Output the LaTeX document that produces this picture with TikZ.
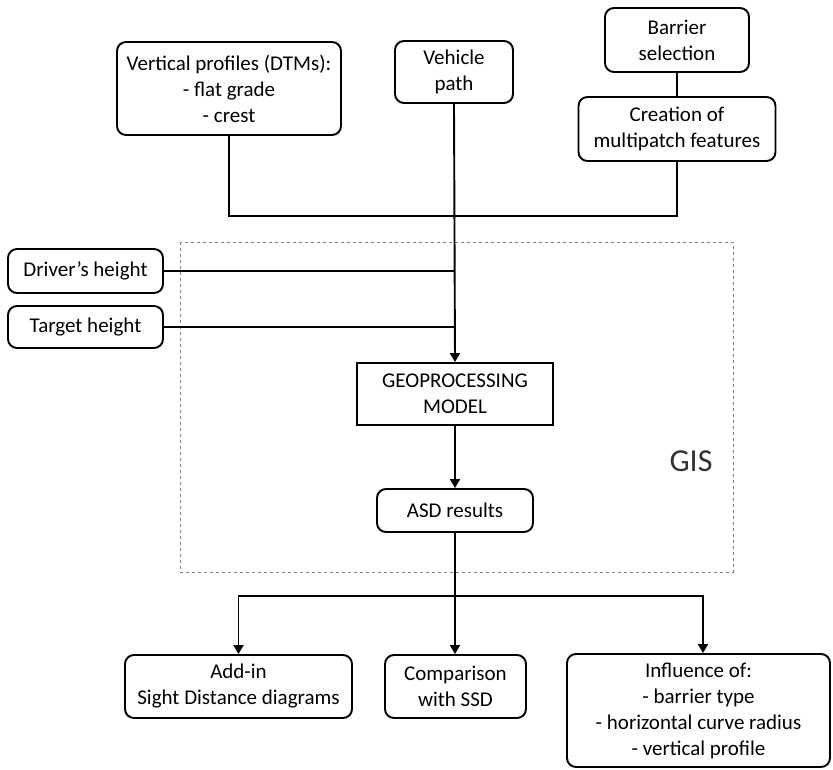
\documentclass[tikz,border=0pt]{standalone}
\usepackage{fontspec}
\setmainfont{Carlito}
\usetikzlibrary{arrows.meta}

\tikzset{
    flowbox/.style={draw, rounded corners=9pt, line width=1.9pt, align=center,
        inner sep=0pt, font=\fontsize{21}{26}\selectfont},
    link/.style={line width=1.9pt},
    flow/.style={line width=1.9pt, -{Triangle[length=9pt,width=10pt]}}
}

\begin{document}
\begin{tikzpicture}[x=1pt,y=-1pt]
    \useasboundingbox (0,0) rectangle (833,770);

    % GIS frame
    \draw[gray, dashed, line width=0.8pt] (180,242) rectangle (733,572);
    \node[text=black!80, font=\fontsize{32}{36}\selectfont] (gis) at (691,461) {GIS};

    % inputs
    \node[flowbox, minimum width=224pt, minimum height=93pt] (profiles) at (229,88.5)
        {Vertical profiles (DTMs):\\- flat grade\\- crest};
    \node[flowbox, minimum width=118pt, minimum height=62pt] (vehicle) at (454,72) {Vehicle\\path};
    \node[flowbox, minimum width=144pt, minimum height=64pt] (barrier) at (677,40) {Barrier\\selection};
    \node[flowbox, minimum width=197pt, minimum height=64pt] (multipatch) at (677,129)
        {Creation of\\multipatch features};
    \node[flowbox, minimum width=155pt, minimum height=44pt] (driver) at (85.5,271) {Driver’s height};
    \node[flowbox, minimum width=155pt, minimum height=42pt] (target) at (85.5,327) {Target height};

    % processing
    \node[flowbox, rounded corners=0pt, minimum width=196pt, minimum height=62pt] (model) at (455,394)
        {GEOPROCESSING\\MODEL};
    \node[flowbox, minimum width=156pt, minimum height=43pt] (asd) at (455,510.5) {ASD results};

    % outputs
    \node[flowbox, minimum width=227pt, minimum height=63pt] (addin) at (238.5,686.5)
        {Add-in\\Sight Distance diagrams};
    \node[flowbox, minimum width=141pt, minimum height=63pt] (ssd) at (455.5,686.5)
        {Comparison\\with SSD};
    \node[flowbox, minimum width=263pt, minimum height=113pt] (influence) at (698.5,710.5)
        {Influence of:\\- barrier type\\- horizontal curve radius\\- vertical profile};

    \coordinate (join) at (455,216);
    \coordinate (split) at (455,596);

    \draw[link] (barrier) -- (multipatch);
    \draw[link] (profiles.south) |- (join) -| (multipatch.south);
    \draw[link] (driver.east) -- (driver.east -| join);
    \draw[link] (target.east) -- (target.east -| join);
    \draw[flow] (vehicle.south) -- (model.north);
    \draw[flow] (model) -- (asd);

    \draw[link] (asd.south) -- (split);
    \draw[flow] (split) -| (addin.north);
    \draw[flow] (split) -- (ssd.north -| split);
    \draw[flow] (split) -| (influence.north -| 703,0);
\end{tikzpicture}
\end{document}
